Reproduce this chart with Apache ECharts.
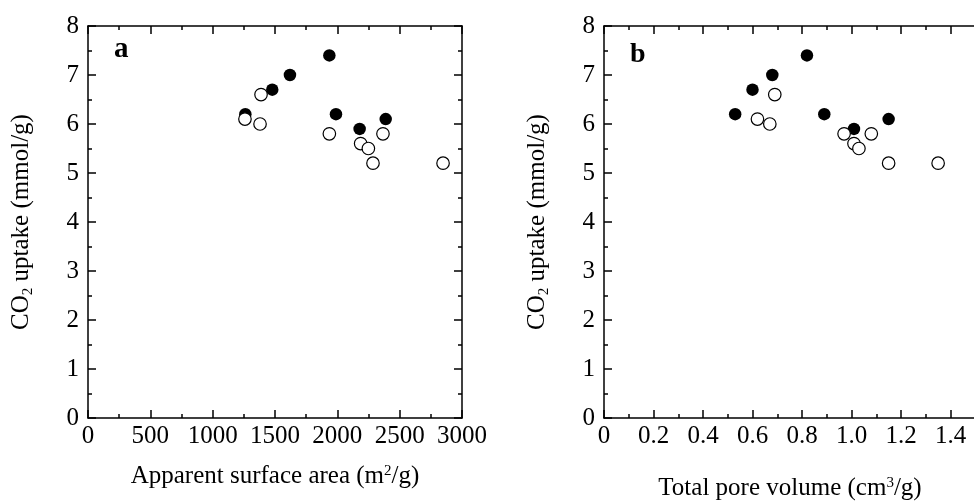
<!DOCTYPE html>
<html>
<head>
<meta charset="utf-8">
<script src="https://cdn.jsdelivr.net/npm/echarts@6/dist/echarts.min.js"></script>
<style>
  html, body { margin: 0; padding: 0; background: #fff; }
  #chart { width: 974px; height: 503px; }
</style>
</head>
<body>
<div id="chart"></div>
<script>
// panel a: apparent surface area (m2/g) vs CO2 uptake (mmol/g)
var areaFilled = [1262, 1478, 1620, 1936, 1989, 2179, 2388];
var uptakeFilledA = [6.2, 6.7, 7.0, 7.4, 6.2, 5.9, 6.1];
var areaOpen = [1259, 1380, 1388, 1936, 2187, 2249, 2286, 2366, 2848];
var uptakeOpenA = [6.1, 6.0, 6.6, 5.8, 5.6, 5.5, 5.2, 5.8, 5.2];

// panel b: total pore volume (cm3/g) vs CO2 uptake (mmol/g)
var volFilled = [0.53, 0.60, 0.68, 0.82, 0.89, 1.01, 1.15];
var uptakeFilledB = [6.2, 6.7, 7.0, 7.4, 6.2, 5.9, 6.1];
var volOpen = [0.62, 0.67, 0.69, 0.97, 1.01, 1.03, 1.08, 1.15, 1.35];
var uptakeOpenB = [6.1, 6.0, 6.6, 5.8, 5.6, 5.5, 5.8, 5.2, 5.2];

var volTickLabels = ['0', '0.2', '0.4', '0.6', '0.8', '1.0', '1.2', '1.4', '1.6'];

function pairs(xs, ys) {
  return xs.map(function (x, i) { return [x, ys[i]]; });
}

var FONT = '"Liberation Serif", "DejaVu Serif", serif';
var FS = 25;
var lineStyle = { color: '#000', width: 1.5 };

function axisBase(extra) {
  var o = {
    type: 'value',
    axisLine: { show: true, onZero: false, lineStyle: lineStyle },
    axisTick: { show: true, inside: true, length: 8, lineStyle: lineStyle },
    minorTick: { show: true, splitNumber: 2, length: 4, lineStyle: lineStyle },
    splitLine: { show: false },
    axisLabel: { color: '#000', fontFamily: FONT, fontSize: FS, margin: 6 }
  };
  for (var k in extra) o[k] = extra[k];
  return o;
}

var nameRich = {
  t: { fontFamily: FONT, fontSize: FS, color: '#000' },
  sup: { fontFamily: FONT, fontSize: 15, color: '#000', verticalAlign: 'top' },
  sub: { fontFamily: FONT, fontSize: 15, color: '#000', verticalAlign: 'bottom', padding: [14, 0, 0, 0] }
};

var yName = '{t|CO}{sub|2}{t| uptake (mmol/g)}';

var hidden = { show: false };

var option = {
  animation: false,
  backgroundColor: '#fff',
  title: [
    { text: 'a', left: 114, top: 35, padding: 0, textStyle: { fontFamily: FONT, fontSize: 29, fontWeight: 'bold', color: '#000' } },
    { text: 'b', left: 630, top: 41, padding: 0, textStyle: { fontFamily: FONT, fontSize: 28, fontWeight: 'bold', color: '#000' } }
  ],
  grid: [
    { left: 88, top: 26, width: 374, height: 392, outerBoundsMode: 'none' },
    { left: 604, top: 26, width: 396, height: 392, outerBoundsMode: 'none' }
  ],
  xAxis: [
    axisBase({
      gridIndex: 0, min: 0, max: 3000, interval: 500,
      axisLabel: {
        color: '#000', fontFamily: FONT, fontSize: FS, margin: 6,
        formatter: function (v) { return String(v); }
      },
      name: '{t|Apparent surface area (m}{sup|2}{t|/g)}',
      nameLocation: 'middle', nameGap: 46,
      nameTextStyle: { rich: nameRich }
    }),
    axisBase({
      gridIndex: 1, min: 0, max: 1.6, interval: 0.2,
      axisLabel: {
        color: '#000', fontFamily: FONT, fontSize: FS, margin: 6,
        formatter: function (v) { return volTickLabels[Math.round(v / 0.2)]; }
      },
      name: '{t|Total pore volume (cm}{sup|3}{t|/g)}',
      nameLocation: 'middle', nameGap: 58,
      nameTextStyle: { rich: nameRich, padding: [0, 24, 0, 0] }
    }),
    axisBase({ gridIndex: 0, position: 'top', min: 0, max: 3000, interval: 500, axisLabel: hidden }),
    axisBase({ gridIndex: 1, position: 'top', min: 0, max: 1.6, interval: 0.2, axisLabel: hidden })
  ],
  yAxis: [
    axisBase({
      gridIndex: 0, min: 0, max: 8, interval: 1,
      axisLabel: { color: '#000', fontFamily: FONT, fontSize: FS, margin: 9 },
      name: yName, nameLocation: 'middle', nameRotate: 90, nameGap: 52,
      nameTextStyle: { rich: nameRich }
    }),
    axisBase({
      gridIndex: 1, min: 0, max: 8, interval: 1,
      axisLabel: { color: '#000', fontFamily: FONT, fontSize: FS, margin: 9 },
      name: yName, nameLocation: 'middle', nameRotate: 90, nameGap: 52,
      nameTextStyle: { rich: nameRich }
    }),
    axisBase({ gridIndex: 0, position: 'right', min: 0, max: 8, interval: 1, axisLabel: hidden }),
    axisBase({ gridIndex: 1, position: 'right', min: 0, max: 8, interval: 1, axisLabel: hidden })
  ],
  series: [
    {
      type: 'scatter', xAxisIndex: 0, yAxisIndex: 0, symbolSize: 12.5, z: 3,
      itemStyle: { color: '#fff', borderColor: '#000', borderWidth: 1.2, opacity: 1 },
      data: pairs(areaOpen, uptakeOpenA)
    },
    {
      type: 'scatter', xAxisIndex: 0, yAxisIndex: 0, symbolSize: 12.5, z: 2,
      itemStyle: { color: '#000', opacity: 1 },
      data: pairs(areaFilled, uptakeFilledA)
    },
    {
      type: 'scatter', xAxisIndex: 1, yAxisIndex: 1, symbolSize: 12.5, z: 3,
      itemStyle: { color: '#fff', borderColor: '#000', borderWidth: 1.2, opacity: 1 },
      data: pairs(volOpen, uptakeOpenB)
    },
    {
      type: 'scatter', xAxisIndex: 1, yAxisIndex: 1, symbolSize: 12.5, z: 2,
      itemStyle: { color: '#000', opacity: 1 },
      data: pairs(volFilled, uptakeFilledB)
    }
  ]
};

var chart = echarts.init(document.getElementById('chart'));
chart.setOption(option);
</script>
</body>
</html>
